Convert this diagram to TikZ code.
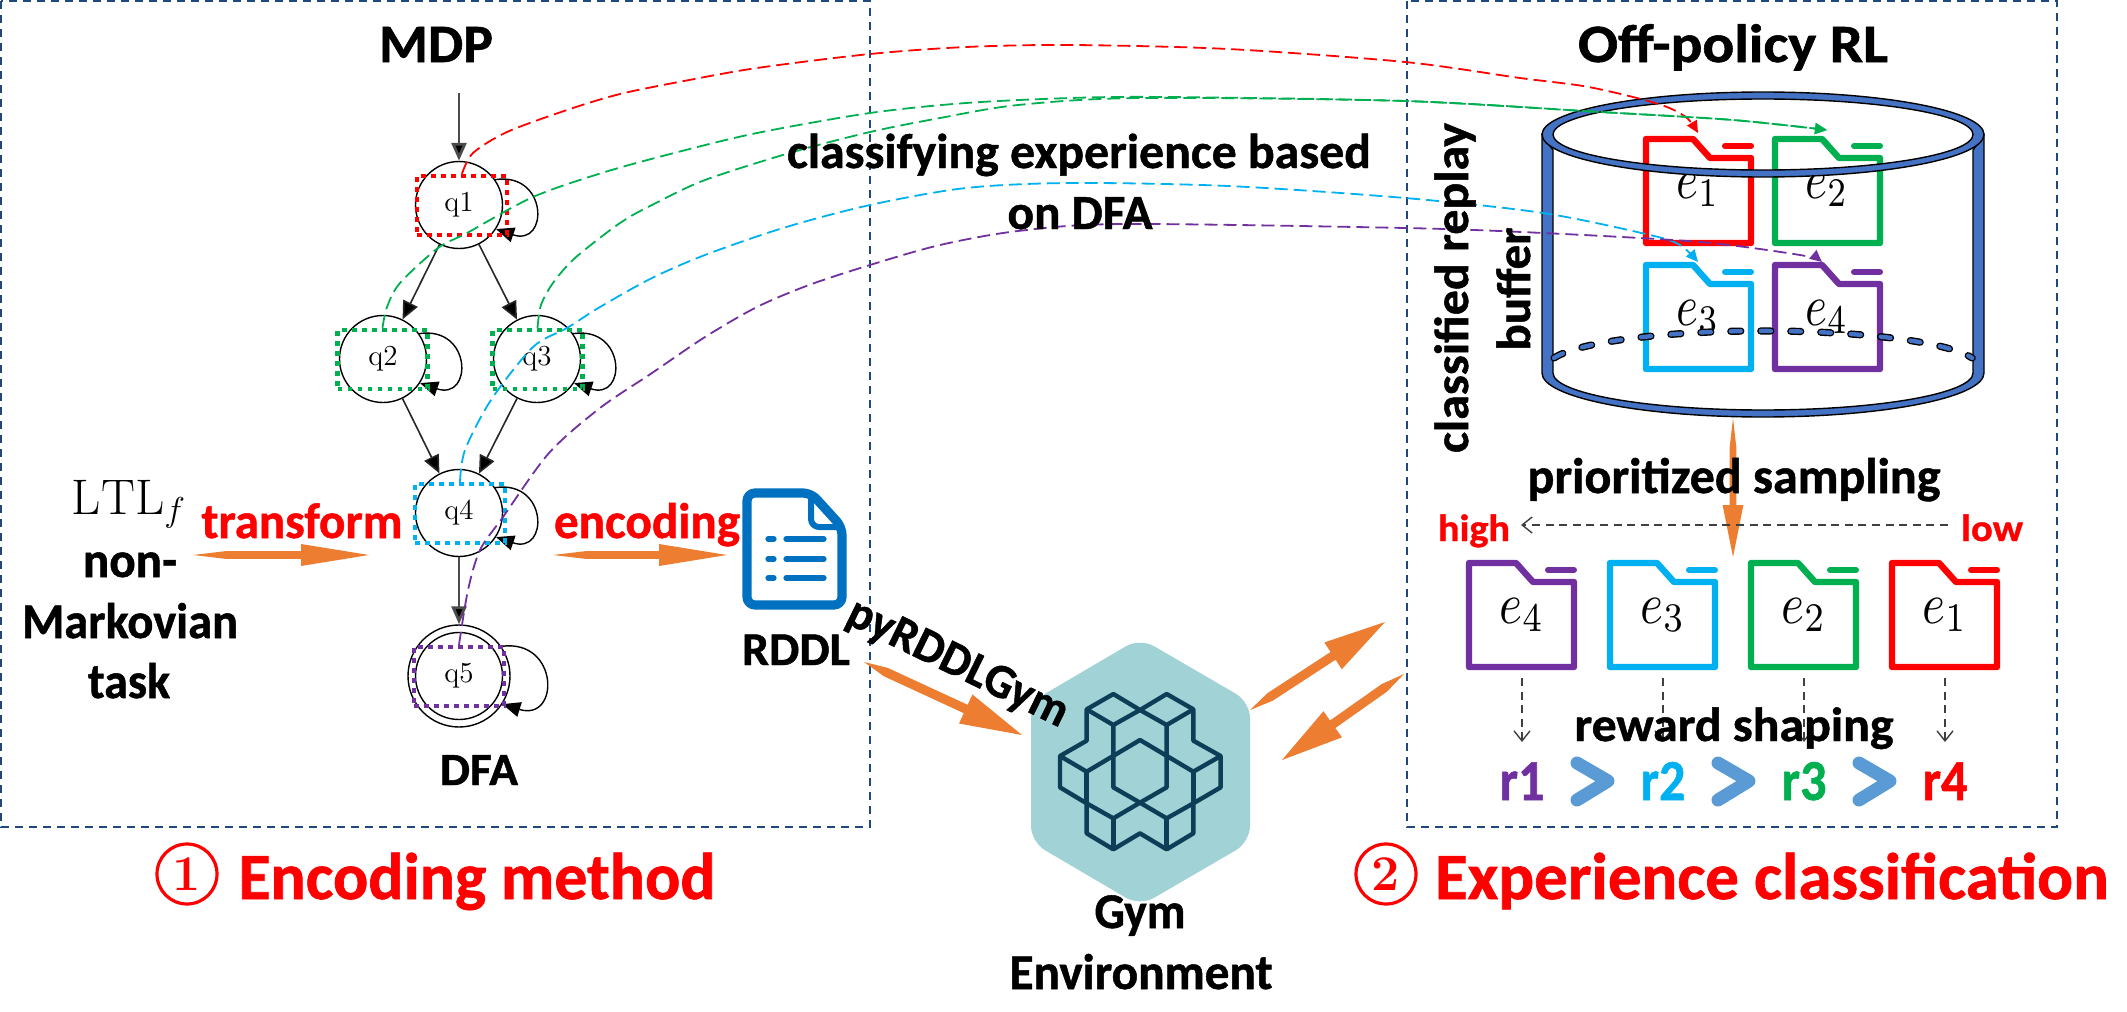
\documentclass[tikz,border=0pt]{standalone}
\usepackage{fontspec}
\usepackage{graphicx}
\usetikzlibrary{arrows.meta,calc}
\newfontfamily\carl{Carlito}[BoldFeatures={FakeBold=1}]
\newdimen\pxu \pxu=.5pt
% size (pt), width (px), text: fitted horizontally to the reference width
\newcommand\TT[3]{\resizebox{#2\pxu}{\height}{\fontsize{#1pt}{#1pt}\selectfont #3}}
% width (px), x-height (px), math letter
\newcommand\EE[3]{\resizebox{#1\pxu}{#2\pxu}{$#3$}}
\definecolor{cred}{HTML}{FF0000}
\definecolor{cgreen}{HTML}{00B050}
\definecolor{cblue}{HTML}{00B0F0}
\definecolor{cpurple}{HTML}{7030A0}
\definecolor{cbox}{HTML}{1F497D}
\definecolor{corange}{HTML}{ED7D31}
\definecolor{cchev}{HTML}{5B9BD5}
\definecolor{ccyl}{HTML}{4472C4}
\definecolor{cdoc}{HTML}{0070C0}
\definecolor{chex}{HTML}{A1D2D6}
\definecolor{cicon}{HTML}{0C3F57}
\definecolor{cgrey}{HTML}{404040}
\newcommand\orarrow[7]{% from, to, tail taper, head length, head half, shaft half (pt), name prefix
  \coordinate (#7s) at ($(#1)!#3pt!(#2)$);
  \coordinate (#7h) at ($(#2)!#4pt!(#1)$);
  \fill[corange] (#1) -- ($(#7s)!#6pt!90:(#2)$) -- ($(#7h)!#6pt!90:(#2)$) -- ($(#7h)!#5pt!90:(#2)$) -- (#2)
     -- ($(#7h)!#5pt!-90:(#2)$) -- ($(#7h)!#6pt!-90:(#2)$) -- ($(#7s)!#6pt!-90:(#2)$) -- cycle;}
\tikzset{
  x=.5pt,y=-.5pt,
  lbl/.style={inner sep=0pt,outer sep=0pt,anchor=base,font=\carl\bfseries},
  stateq/.style={circle,draw=black,line width=.7pt,minimum size=43.5pt,inner sep=0pt,font=\fontsize{14.5pt}{15pt}\selectfont},
  dotbox/.style={draw=#1,line width=2.2pt,dash pattern=on 2.4pt off 2.6pt,minimum width=45pt,minimum height=29.5pt,inner sep=0pt},
  edge/.style={line width=.8pt,black!85,-{Triangle[length=9pt,width=8pt,fill=black]}},
  edgeb/.style={line width=1.4pt,black!70,-{Triangle[length=9pt,width=7.5pt,fill=black]}},
  selfloop/.style={line width=.7pt,black,-{Triangle[length=9pt,width=7.5pt]}},
  link/.style={#1,line width=.9pt,dash pattern=on 6.5pt off 3pt,-{Triangle[length=6pt,width=5.5pt]}},
  framebox/.style={cbox,line width=1.1pt,dash pattern=on 4pt off 3pt},
  greyarrow/.style={cgrey,line width=.7pt,dash pattern=on 4pt off 2.8pt,-{Straight Barb[length=5pt,width=8pt]}},
  pics/folder/.style={code={
    \draw[#1,line width=3.2pt,line join=round] (3,3) -- (50,3) -- (67,22) -- (108,22) -- (108,107) -- (3,107) -- cycle;
    \draw[#1,line width=3pt,line cap=round] (82,10) -- (108,10);
  }},
  chev/.style={cchev,line width=6.5pt,line cap=round,line join=round},
  circnum/.style={circle,draw=cred,text=cred,line width=1.6pt,minimum size=30pt,inner sep=0pt,font=\fontsize{25pt}{25pt}\selectfont\bfseries},
}
\begin{document}
\begin{tikzpicture}
\useasboundingbox (0,0) rectangle (2127,1012);
% frames
\draw[framebox] (1,1) rectangle (870,827);
\draw[framebox] (1407,1) rectangle (2057,827);

% DFA
\node[stateq] (q1) at (459,205) {q1};
\node[stateq] (q2) at (383,359) {q2};
\node[stateq] (q3) at (537,359) {q3};
\node[stateq] (q4) at (459,513) {q4};
\node[stateq,minimum size=51pt] (q5) at (459,676) {q5};
\node[circle,draw=black,line width=.7pt,minimum size=43.5pt,inner sep=0pt] (q5in) at (459,676) {};
\coordinate (start) at (459,93);
\draw[edgeb] (start) -- (q1);
\draw[edge] (q1) -- (q2);
\draw[edge] (q1) -- (q3);
\draw[edge] (q2) -- (q4);
\draw[edge] (q3) -- (q4);
\draw[edgeb] (q4) -- (q5);
\foreach \q in {q1,q2,q3,q4}{
  \draw[selfloop] (\q.35) .. controls +(53,-8) and +(53,18) .. (\q.-33);
}
\draw[selfloop] (q5.35) .. controls +(58,-8) and +(58,18) .. (q5.-33);
\node[dotbox=cred] (b1) at (462,205.5) {};
\node[dotbox=cgreen] (b2) at (382.5,359.5) {};
\node[dotbox=cgreen] (b3) at (537.5,359.5) {};
\node[dotbox=cblue] (b4) at (460,513.5) {};
\node[dotbox=cpurple] (b5) at (459,676.5) {};

% folders in the buffer
\pic at (1643,136) {folder=cred};
\pic at (1772,136) {folder=cgreen};
\pic at (1643,262) {folder=cblue};
\pic at (1772,262) {folder=cpurple};
\node[lbl] (eu1) at (1698,198) {\EE{43}{25}{e_1}};
\node[lbl] (eu2) at (1827,198) {\EE{43}{25}{e_2}};
\node[lbl] (eu3) at (1698,325) {\EE{43}{25}{e_3}};
\node[lbl] (eu4) at (1827,325) {\EE{43}{25}{e_4}};

% cylinder
\filldraw[fill=ccyl,draw=black,line width=.7pt]
  (1542,135) -- (1542,373) arc[start angle=180,end angle=360,x radius=110.5pt,y radius=22pt]
  -- (1984,135) -- (1973,150) -- (1973,373) arc[start angle=0,end angle=-180,x radius=105pt,y radius=18.5pt]
  -- (1553,150) -- cycle;
\filldraw[fill=ccyl,draw=black,line width=.7pt,even odd rule]
  (1763,134.5) ellipse[x radius=110.5pt,y radius=21.25pt]
  (1763,134.5) ellipse[x radius=105pt,y radius=17.75pt];
\draw[black,line width=3.6pt,line cap=round,dash pattern=on 5pt off 10pt] (1554,358) arc[start angle=166,end angle=14,x radius=107.75pt,y radius=17.85pt];
\draw[ccyl,line width=2.2pt,line cap=round,dash pattern=on 5pt off 10pt] (1554,358) arc[start angle=166,end angle=14,x radius=107.75pt,y radius=17.85pt];

% colored links
\coordinate (t1) at (1698,133);
\coordinate (t2) at (1827,130);
\coordinate (t3) at (1698,262);
\coordinate (t4) at (1822,262);
\draw[link=cred] plot[smooth,tension=.5] coordinates {(b1.north) (473,153) (507,132) (567,110) (620,94) (684,81) (757,68) (870,54) (966,47) (1071,45) (1228,49) (1405,62) (1520,78) (1583,86) (1633,97) (1667,107) (1687,118) (t1)};
\draw[link=cgreen] plot[smooth,tension=.5] coordinates {(b2.north) (387,307) (400,283) (438,248) (467,233) (533,197) (605,172) (678,152) (757,133) (870,113) (966,103) (1071,98) (1165,97) (1405,101) (1600,112) (1733,120) (t2)};
\draw[link=cgreen] plot[smooth,tension=.5] coordinates {(b3.north) (541,305) (553,283) (575,258) (620,223) (652,205) (705,180) (793,152) (870,132) (940,118) (1018,105) (1139,98) (1405,101) (1600,112) (1733,120) (t2)};
\draw[link=cblue] plot[smooth,tension=.5] coordinates {(b4.north) (465,450) (491,400) (533,347) (567,328) (600,307) (652,278) (705,255) (783,228) (870,205) (966,188) (1071,183) (1228,186) (1405,198) (1543,213) (1650,235) (1680,245) (t3)};
\draw[link=cpurple] plot[smooth,tension=.5] coordinates {(b5.north) (468,590) (480,550) (503,517) (549,453) (600,408) (652,373) (705,337) (757,307) (809,285) (870,265) (940,245) (1018,231) (1123,224) (1405,228) (1543,233) (1700,242) (1800,255) (t4)};

% orange arrows
\coordinate (a1) at (193,555); \coordinate (a2) at (369,555);
\orarrow{a1}{a2}{16}{34}{5.5}{1.9}{oa}
\coordinate (a3) at (553,555); \coordinate (a4) at (727,555);
\orarrow{a3}{a4}{16}{34}{5.5}{1.9}{ob}
\coordinate (a5) at (864,662); \coordinate (a6) at (1022,735);
\orarrow{a5}{a6}{12}{31}{8}{2.3}{oc}
\coordinate (a7) at (1250,710); \coordinate (a8) at (1385,622);
\orarrow{a7}{a8}{12}{31}{8}{2.3}{od}
\coordinate (a9) at (1404,674); \coordinate (a10) at (1282,760);
\orarrow{a9}{a10}{12}{31}{8}{2.3}{oe}
\coordinate (a11) at (1733,418); \coordinate (a12) at (1733,557);
\orarrow{a11}{a12}{15}{26}{5.2}{1.7}{of}

% RDDL document icon
\draw[cdoc,line width=4.6pt,line join=round,rounded corners=4pt] (811,493) -- (747,493) -- (747,605) -- (842,605) -- (842,527) -- cycle;
\draw[cdoc,line width=3pt,line join=round,rounded corners=4pt] (811,493) -- (811,527) -- (842,527);
\foreach \yy in {539,559,578}{
  \draw[cdoc,line width=2.6pt,line cap=round] (768,\yy) -- (774,\yy);
  \draw[cdoc,line width=2.6pt,line cap=round] (786,\yy) -- (824,\yy);
}

% Gym icon
\fill[chex,rounded corners=8pt] (1140,638) -- (1250,702) -- (1250,842) -- (1140,906) -- (1031,842) -- (1031,702) -- cycle;
\begin{scope}[shift={(980,600)},x=.16667pt,y=-.16667pt,cicon,line width=2.2pt,line join=round]
\draw (320,328) -- (400,282) -- (480,330) -- (560,282) -- (640,328) -- (640,422) -- (722,468) -- (722,562) -- (640,610) -- (640,700) -- (560,748) -- (480,700) -- (400,748) -- (320,700) -- (320,610) -- (240,562) -- (240,468) -- (320,422) -- cycle;
\draw (320,328) -- (400,375) -- (480,330) -- (560,375) -- (640,328);
\draw (400,375) -- (400,562) -- (480,608) -- (560,562) -- (560,375);
\draw (240,468) -- (320,515) -- (480,420) -- (640,515) -- (722,468);
\draw (320,515) -- (320,610);
\draw (640,515) -- (640,610);
\draw (320,610) -- (400,655) -- (480,608) -- (560,655) -- (640,610);
\draw (400,655) -- (400,748);
\draw (560,655) -- (560,748);
\end{scope}

% lower folders
\pic at (1466,560) {folder=cpurple};
\pic at (1607,560) {folder=cblue};
\pic at (1748,560) {folder=cgreen};
\pic at (1889,560) {folder=cred};
\node[lbl] (el4) at (1522,623) {\EE{45}{25}{e_4}};
\node[lbl] (el3) at (1663,623) {\EE{45}{25}{e_3}};
\node[lbl] (el2) at (1804,623) {\EE{45}{25}{e_2}};
\node[lbl] (el1) at (1945,623) {\EE{45}{25}{e_1}};

% grey dashed arrows
\coordinate (lowend) at (1948,525); \coordinate (highend) at (1521,525);
\draw[greyarrow] (lowend) -- (highend);
\foreach \n/\xx in {A/1522,B/1663,C/1804,D/1945}{
  \coordinate (s\n) at (\xx,678); \coordinate (d\n) at (\xx,742);
  \draw[greyarrow] (s\n) -- (d\n);
}

% chevrons
\foreach \dx in {0,141,282}{
  \draw[chev] (1577+\dx,763) -- (1608+\dx,781) -- (1577+\dx,800);
}

% labels
\node[lbl] (mdp) at (436,62) {\TT{27}{114}{MDP}};
\node[lbl] (offrl) at (1733,62) {\TT{27}{310}{Off-policy RL}};
\node[lbl] (dfa) at (479,785) {\TT{23}{78}{DFA}};
\node[lbl] (classa) at (1079,168) {\TT{24.5}{584}{classifying experience based}};
\node[lbl] (classb) at (1080,229) {\TT{24.5}{145}{on DFA}};
\node[lbl,font=\normalfont] (ltl) at (129,514) {\TT{25}{114}{$\mathrm{LTL}_f$}};
\node[lbl] (nonm) at (130,577) {\TT{25}{94}{non-}};
\node[lbl] (mark) at (130,638) {\TT{25}{216}{Markovian}};
\node[lbl] (task) at (129,698) {\TT{25}{82}{task}};
\node[lbl,text=cred] (trans) at (302,538) {\TT{25}{201}{transform}};
\node[lbl,text=cred] (enc) at (647,538) {\TT{25}{186}{encoding}};
\node[lbl] (rddl) at (796,665) {\TT{23.5}{108}{RDDL}};
\node[lbl,rotate=-26] (pyr) at (952,675) {\TT{24}{240}{pyRDDLGym}};
\node[lbl] (gyma) at (1140,928) {\TT{25}{91}{Gym}};
\node[lbl] (gymb) at (1141,989) {\TT{25}{263}{Environment}};
\node[lbl,rotate=90] (crep) at (1468,288) {\TT{24}{330}{classified replay}};
\node[lbl,rotate=90] (buff) at (1530,289) {\TT{24}{123}{buffer}};
\node[lbl] (prio) at (1734,493) {\TT{25}{413}{prioritized sampling}};
\node[lbl] (rew) at (1734,741) {\TT{24}{319}{reward shaping}};
\node[lbl,text=cred] (high) at (1474,541) {\TT{19}{72}{high}};
\node[lbl,text=cred] (low) at (1992,541) {\TT{19}{62}{low}};
\node[lbl,text=cpurple] (r1) at (1522,800) {\TT{29}{45}{r1}};
\node[lbl,text=cblue] (r2) at (1663,800) {\TT{29}{45}{r2}};
\node[lbl,text=cgreen] (r3) at (1804,800) {\TT{29}{45}{r3}};
\node[lbl,text=cred] (r4) at (1945,800) {\TT{29}{45}{r4}};
\node[circnum] (n1) at (187,874) {1};
\node[lbl,text=cred] (t1m) at (477,899) {\TT{33}{477}{Encoding method}};
\node[circnum] (n2) at (1386,874) {2};
\node[lbl,text=cred] (t2m) at (1772,899) {\TT{33}{674}{Experience classification}};
\end{tikzpicture}
\end{document}
